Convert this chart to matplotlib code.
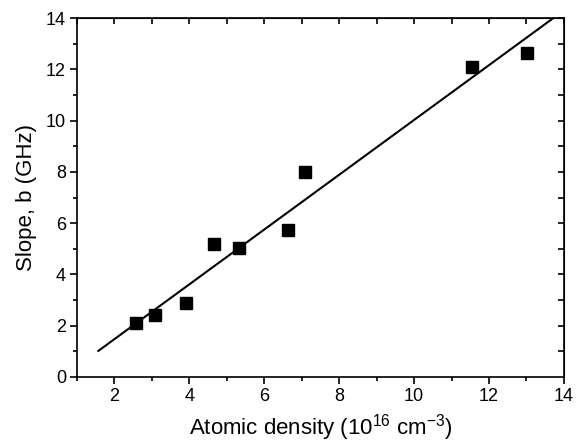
import matplotlib
matplotlib.use('Agg')
import matplotlib.pyplot as plt
import numpy as np

# measured points: atomic density (1e16 cm^-3) vs slope b (GHz)
density = [2.58, 3.08, 3.90, 4.66, 5.33, 6.64, 7.09, 11.54, 13.02]
slope_b = [2.10, 2.42, 2.89, 5.19, 5.02, 5.73, 7.98, 12.10, 12.66]

# linear fit line
fit_slope = 1.069
fit_intercept = -0.66
fit_x = [1.57, 14.0]

plt.rcParams['font.family'] = ['Liberation Sans', 'DejaVu Sans']
plt.rcParams['mathtext.fontset'] = 'custom'
plt.rcParams['mathtext.rm'] = 'Liberation Sans'
plt.rcParams['mathtext.it'] = 'Liberation Sans:italic'

fig = plt.figure(figsize=(5.79, 4.43), dpi=100)
ax = fig.add_axes([0.133, 0.149, 0.841, 0.810])

fx = np.array(fit_x)
ax.plot(fx, fit_slope * fx + fit_intercept, color='black', lw=1.5)
ax.plot(density, slope_b, 's', color='black', markersize=8)

ax.set_xlim(1, 14)
ax.set_ylim(0, 14)
ax.set_xticks(range(2, 15, 2))
ax.set_xticks(range(1, 15, 1), minor=True)
ax.set_yticks(range(0, 15, 2))
ax.set_yticks(range(1, 15, 1), minor=True)

for s in ax.spines.values():
    s.set_linewidth(1.2)
ax.tick_params(which='major', direction='out', length=5, width=1.2, labelsize=13, pad=3)
ax.tick_params(which='minor', direction='out', length=3, width=1.2)

# inward ticks on the top and right, Origin style
top = ax.secondary_xaxis('top')
top.set_xticks(range(1, 15, 1))
top.tick_params(direction='in', length=4, width=1.2, labeltop=False)
right = ax.secondary_yaxis('right')
right.set_yticks(range(1, 15, 1))
right.tick_params(direction='in', length=4, width=1.2, labelright=False)

ax.set_xlabel('Atomic density (10$^{16}$ cm$^{-3}$)', fontsize=16, labelpad=5)
ax.set_ylabel('Slope, b (GHz)', fontsize=16, labelpad=6)

fig.savefig('out.png', dpi=100)
plt.close(fig)
